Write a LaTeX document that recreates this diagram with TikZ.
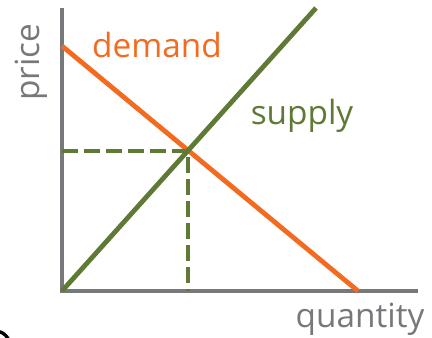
\documentclass[tikz,border=0pt]{standalone}
\usepackage{fontspec}
\setmainfont{Open Sans}
\usepackage{xcolor}
\usetikzlibrary{positioning,calc}
\definecolor{axisgray}{HTML}{77787B}
\definecolor{demandorange}{HTML}{F26B21}
\definecolor{supplygreen}{HTML}{5E7A35}

\begin{document}
\begin{tikzpicture}[x=0.75pt,y=-0.75pt,
  axis/.style={draw=axisgray, line width=3pt},
  curve/.style={draw=#1, line width=3.6pt},
  guide/.style={draw=supplygreen, line width=3.4pt, dash pattern=on 12pt off 4.5pt},
  lbl/.style={text=#1, font=\fontsize{25}{29}\selectfont, inner sep=0pt}
]
\useasboundingbox (0,0) rectangle (432,337);
\clip (0,0) rectangle (432,337);
% axes
\coordinate (origin) at (62,291);
\coordinate (ytop) at (62,8);
\coordinate (xend) at (418,291);
\draw[axis] ($(origin)+(0,2)$) -- (ytop);
\draw[axis] ($(origin)+(-2,0)$) -- (xend);
% demand and supply
\coordinate (dtop) at (62,46);
\coordinate (dend) at (358,291);
\coordinate (stop) at (316,8);
\coordinate (eq) at (188,151);
\draw[curve=demandorange] (dtop) -- (dend);
\draw[curve=supplygreen] (origin) -- (stop);
% equilibrium guides
\draw[guide] (origin |- eq) -- (eq) -- (eq |- origin);
% labels
\node[lbl=axisgray, rotate=90] (price) at (31,62) {price};
\node[lbl=axisgray] (quantity) at (360,319) {quantity};
\node[lbl=demandorange] (demand) at (157,45) {demand};
\node[lbl=supplygreen] (supply) at (302,116) {supply};
% cropped mark
\draw[line width=2.5pt] (-5,346) circle (15);
\end{tikzpicture}
\end{document}
